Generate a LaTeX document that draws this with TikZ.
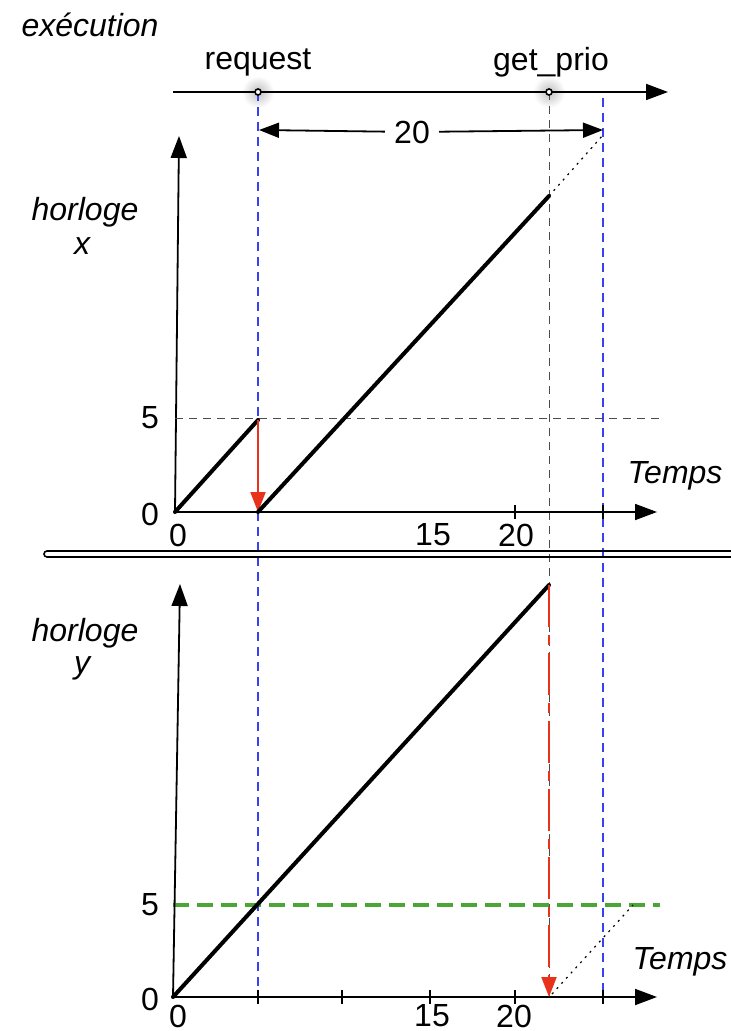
\documentclass[tikz,border=0pt]{standalone}
\usepackage{fontspec}
\setmainfont{Liberation Sans}
\usetikzlibrary{arrows.meta}
\definecolor{bleu}{RGB}{55,65,240}
\definecolor{rouge}{RGB}{232,50,28}
\definecolor{vert}{RGB}{75,165,55}
\begin{document}
\begin{tikzpicture}[x=0.5pt, y=-0.5pt,
  every node/.style={inner sep=0pt, font=\fontsize{16}{19}\selectfont},
  lbl/.style={font=\fontsize{16}{19}\selectfont\itshape},
  axe/.style={line width=0.9pt, -{Triangle[length=11pt,width=8pt]}},
  courbe/.style={line width=2pt, line cap=round},
  repere/.style={bleu, line width=0.9pt, dash pattern=on 4.5pt off 3pt},
  guide/.style={gray!60!black, line width=0.5pt, dash pattern=on 4pt off 3pt},
  reset/.style={rouge, line width=1pt, -{Triangle[length=10pt,width=7.5pt]}},
  cote/.style={line width=0.9pt, -{Triangle[length=10pt,width=7.5pt]}},
  pointille/.style={line width=0.6pt, dash pattern=on 1pt off 2.5pt}]
  \useasboundingbox (0,0) rectangle (731,1031);

  % points of the execution line
  \coordinate (ex0) at (173,92);
  \coordinate (ex1) at (668,92);
  \coordinate (req) at (258,92);
  \coordinate (gp)  at (549,92);
  \coordinate (fin) at (603,98);

  % glow behind the events
  \shade[inner color=gray!50, outer color=white] (req) circle (16);
  \shade[inner color=gray!50, outer color=white] (gp) circle (16);

  % vertical guides
  \coordinate (reqbas) at (258,997);
  \coordinate (finbas) at (603,997);
  \coordinate (gpbas)  at (549,997);
  \draw[repere] (req) -- (reqbas);
  \draw[repere] (fin) -- (finbas);
  \draw[guide] (gp) -- (gpbas);

  % execution line
  \node[lbl] (exec) at (90,25) {exécution};
  \draw[axe] (ex0) -- (ex1);
  \node (nreq) at (258,62) {request};
  \node (ngp)  at (551,62) {get\_prio};
  \filldraw[fill=white, line width=0.8pt] (req) circle (3);
  \filldraw[fill=white, line width=0.8pt] (gp) circle (3);

  % delay of 20
  \node[inner xsep=4.5pt] (t20) at (412,132) {20};
  \coordinate (d0) at (259,130);
  \coordinate (d1) at (603,130);
  \draw[cote] (t20) -- (d0);
  \draw[cote] (t20) -- (d1);

  % clock x
  \coordinate (o1) at (175,512);
  \coordinate (y1) at (179,136);
  \coordinate (x1) at (657,512);
  \draw[axe] (o1) -- (y1);
  \draw[axe] (o1) -- (x1);
  \node[lbl] (hx) at (85,212) {horloge};
  \node[lbl] (vx) at (82,246) {x};
  \node[lbl] (tx) at (675,476) {Temps};
  \node (x5) at (150,418) {5};
  \node (x0) at (150,514) {0};
  \node (xt0)  at (178,535) {0};
  \node (xt15) at (433,535) {15};
  \node (xt20) at (516,535) {20};
  \foreach \t in {515,603} \draw[line width=0.9pt] (\t,505) -- (\t,519);
  \coordinate (s5a) at (175,418);
  \coordinate (s5b) at (660,418);
  \draw[guide] (s5a) -- (s5b);
  \coordinate (a5) at (258,420);
  \coordinate (b0) at (258,512);
  \coordinate (b1) at (549,196);
  \coordinate (b2) at (603,135);
  \draw[courbe] (o1) -- (a5);
  \draw[reset] (a5) -- (b0);
  \draw[courbe] (b0) -- (b1);
  \draw[pointille] (b1) -- (b2);

  % separator
  \draw[line width=0.8pt, rounded corners=1.5pt] (44,551) rectangle (745,557);

  % clock y
  \coordinate (o2) at (173,997);
  \coordinate (y2) at (180,584);
  \coordinate (x2) at (657,997);
  \coordinate (s5c) at (173,905);
  \coordinate (s5d) at (660,905);
  \draw[vert, line width=2pt, dash pattern=on 8pt off 4pt] (s5c) -- (s5d);
  \draw[axe] (o2) -- (y2);
  \draw[axe] (o2) -- (x2);
  \node[lbl] (hy) at (85,633) {horloge};
  \node[lbl] (vy) at (82,668) {y};
  \node[lbl] (ty) at (680,962) {Temps};
  \node (y5) at (150,905) {5};
  \node (y0) at (150,999) {0};
  \node (yt0)  at (178,1016) {0};
  \node (yt15) at (432,1016) {15};
  \node (yt20) at (514,1016) {20};
  \foreach \t in {258,342,430,515,603} \draw[line width=0.9pt] (\t,990) -- (\t,1004);
  \coordinate (c1) at (549,585);
  \draw[courbe] (o2) -- (c1);
  \draw[reset, dash pattern=on 21pt off 4pt on 5pt off 4pt] (c1) -- (gpbas);
  \coordinate (e0) at (552,994);
  \coordinate (e1) at (633,905);
  \draw[pointille] (e0) -- (e1);
\end{tikzpicture}
\end{document}
